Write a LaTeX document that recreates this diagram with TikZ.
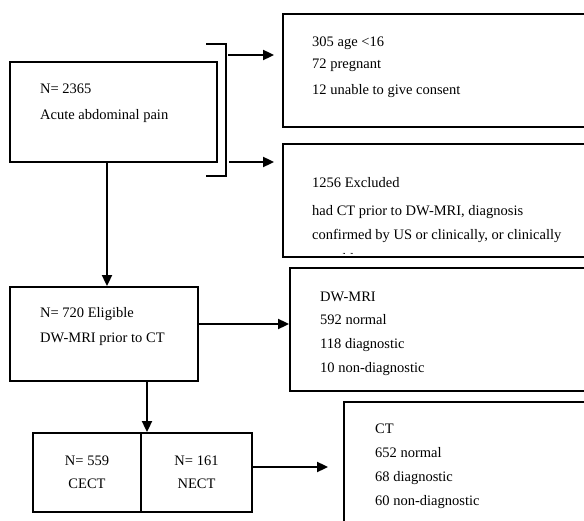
\documentclass[tikz,border=0pt]{standalone}
\usepackage{fontspec}
\setmainfont{Liberation Serif}
\usetikzlibrary{arrows.meta}

\begin{document}
\begin{tikzpicture}[>={Triangle[length=11pt,width=10pt]},x=1pt,y=-1pt,
    boxed/.style={draw,line width=1.8pt,inner sep=0pt},
    lbl/.style={anchor=north west,align=left,inner sep=0pt,font=\fontsize{14.5}{24}\selectfont},
    flow/.style={->,line width=1.8pt}]
    \clip (0,0) rectangle (584,521);

    % boxes
    \node[boxed,minimum width=207pt,minimum height=100pt] (total) at (113.5,112) {};
    \node[boxed,minimum width=317pt,minimum height=113pt] (agebox) at (441.5,70.5) {};
    \node[boxed,minimum width=317pt,minimum height=113pt] (exclbox) at (441.5,200.5) {};
    \node[boxed,minimum width=188pt,minimum height=94pt] (eligible) at (104,334) {};
    \node[boxed,minimum width=310pt,minimum height=123pt] (mribox) at (445,329.5) {};
    \node[boxed,minimum width=256pt,minimum height=138pt] (ctbox) at (472,471) {};
    \node[boxed,minimum width=108pt,minimum height=79pt,align=center,font=\fontsize{14.5}{23}\selectfont] (cect) at (87,472.5) {N= 559\\CECT};
    \node[boxed,minimum width=111pt,minimum height=79pt,align=center,font=\fontsize{14.5}{23}\selectfont] (nect) at (196.5,472.5) {N= 161\\NECT};

    % texts
    \node[lbl] (totaltxt) at (40,84) {N= 2365\\[2pt]Acute abdominal pain};
    \node[lbl] (agetxt) at (312,37) {305 age <16\\[-2pt]72 pregnant\\[2pt]12 unable to give consent};
    \node[lbl] (eligtxt) at (40,307.5) {N= 720 Eligible\\[1pt]DW-MRI prior to CT};
    \node[lbl] (mritxt) at (320,291.5) {DW-MRI\\[-1pt]592 normal\\118 diagnostic\\10 non-diagnostic};
    \node[lbl] (cttxt) at (375,423.5) {CT\\652 normal\\68 diagnostic\\60 non-diagnostic};
    \begin{scope}
        \clip ([xshift=1pt,yshift=-1pt]exclbox.north west) rectangle ([xshift=-1pt,yshift=4pt]exclbox.south east);
        \node[lbl] (excltxt) at (312,177.5) {1256 Excluded\\[4pt]had CT prior to DW-MRI, diagnosis\\confirmed by US or clinically, or clinically\\unstable};
    \end{scope}

    % bracket and arrows
    \coordinate (brtop) at (206,44);
    \coordinate (brbot) at (206,176);
    \draw[line width=1.8pt] (brtop) -- ++(20,0) |- (brbot);
    \coordinate (outA) at (228,55);
    \coordinate (outB) at (229,162);
    \draw[flow,shorten >=8pt] (outA) -- (outA -| agebox.west);
    \draw[flow,shorten >=8pt] (outB) -- (outB -| exclbox.west);

    \draw[flow] ([xshift=-6.5pt]total.south) -- ([xshift=-6.5pt]total.south |- eligible.north);
    \draw[flow] ([yshift=10pt]eligible.east) -- ([yshift=10pt]eligible.east -| mribox.west);
    \draw[flow] ([xshift=43pt]eligible.south) -- ([xshift=43pt]eligible.south |- nect.north);
    \draw[flow,shorten >=15pt] ([yshift=5.5pt]nect.east) -- ([yshift=5.5pt]nect.east -| ctbox.west);
\end{tikzpicture}
\end{document}
